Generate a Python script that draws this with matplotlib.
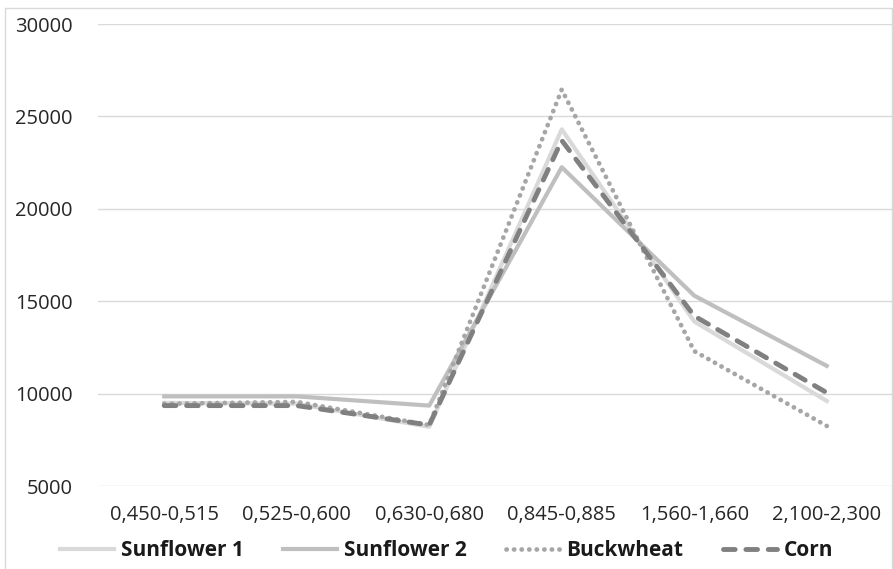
import matplotlib
matplotlib.use("Agg")
import matplotlib.pyplot as plt
from matplotlib.patches import Rectangle

# data
bands = ['0,450-0,515', '0,525-0,600', '0,630-0,680', '0,845-0,885', '1,560-1,660', '2,100-2,300']
sunflower1 = [9500, 9450, 8200, 24300, 13900, 9600]
sunflower2 = [9850, 9850, 9350, 22250, 15300, 11500]
buckwheat = [9450, 9550, 8300, 26450, 12300, 8250]
corn = [9350, 9350, 8300, 23700, 14200, 10050]

plt.rcParams['font.family'] = ['Open Sans', 'DejaVu Sans']

fig = plt.figure(figsize=(8.93, 5.69), dpi=100)
ax = fig.add_axes([98 / 893, 1 - 486 / 569, 795 / 893, (486 - 24) / 569])

x = range(len(bands))
ax.plot(x, sunflower1, color='#d9d9d9', lw=3, label='Sunflower 1', zorder=3)
ax.plot(x, sunflower2, color='#bfbfbf', lw=3, label='Sunflower 2', zorder=3)
ax.plot(x, buckwheat, color='#a6a6a6', lw=3.4, linestyle=(0, (0.05, 1.55)),
        dash_capstyle='round', label='Buckwheat', zorder=4)
ax.plot(x, corn, color='#808080', lw=3.5, linestyle=(0, (2.4, 2.2)),
        dash_capstyle='round', label='Corn', zorder=5)

ax.set_xlim(-0.5, 5.5)
ax.set_ylim(5000, 30000)
ax.set_yticks([5000, 10000, 15000, 20000, 25000, 30000])
ax.set_xticks(list(x))
ax.set_xticklabels(bands)
ax.grid(axis='y', color='#d9d9d9', lw=1)
ax.set_axisbelow(True)
for s in ax.spines.values():
    s.set_visible(False)
ax.tick_params(length=0, labelsize=14.5, colors='#262626')
ax.tick_params(axis='y', pad=18)
ax.tick_params(axis='x', pad=14)

leg = fig.legend(loc='center', bbox_to_anchor=(0.5, 1 - 551 / 569), ncol=4, frameon=False,
                 prop={'weight': 'bold', 'size': 15}, handlelength=2.6, columnspacing=1.9,
                 handletextpad=0.3)
for t in leg.get_texts():
    t.set_color('#1a1a1a')

fig.patches.append(Rectangle((5 / 893, -0.01), 887 / 893, 1 - 8 / 569 + 0.01,
                             transform=fig.transFigure, fill=False, edgecolor='#d9d9d9', lw=1))

fig.savefig('out.png', dpi=100)
